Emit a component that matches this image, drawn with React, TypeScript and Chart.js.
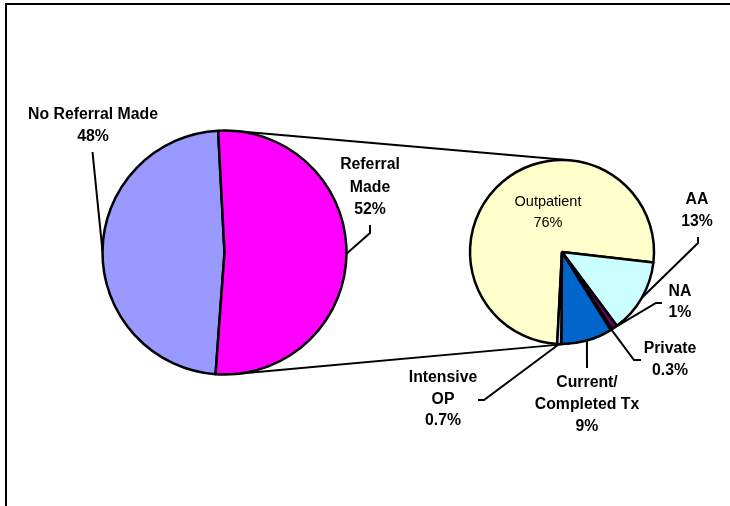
import React, { useEffect, useRef } from "react";
import { Chart, registerables } from "chart.js";

Chart.register(...registerables);

// ---------- data ----------
const mainCategories = ["No Referral Made", "Referral Made"];
const mainValues = [48, 52];
const mainPercentText = ["48%", "52%"];
const mainLabelLines = [["No Referral Made"], ["Referral", "Made"]];
const mainColors = ["#9999FF", "#FF00FF"];

const subCategories = ["Outpatient", "AA", "NA", "Private", "Current/Completed Tx", "Intensive OP"];
const subValues = [76, 13, 1, 0.3, 9, 0.7];
const subPercentText = ["76%", "13%", "1%", "0.3%", "9%", "0.7%"];
const subLabelLines = [["Outpatient"], ["AA"], ["NA"], ["Private"], ["Current/", "Completed Tx"], ["Intensive", "OP"]];
const subColors = ["#FFFFCC", "#CCFFFF", "#660066", "#FF8080", "#0066CC", "#CCCCFF"];

// ---------- styles ----------
const BOLD = 'bold 15.8px "Liberation Sans", Arial, sans-serif';
const REG = '14.5px "Liberation Sans", Arial, sans-serif';
const LINE_H = 22;

type LabelStyle = { text: [number, number]; leader: [number, number][]; font: string; lineH: number };

// offsets relative to the pie centre
const mainLabelStyle: LabelStyle[] = [
  { text: [-131.5, -137.5], leader: [[-132, -100.5]], font: BOLD, lineH: LINE_H },
  { text: [145.5, -87.5], leader: [[145.5, -27.5], [145.5, -19.5]], font: BOLD, lineH: 22.5 },
];
const subLabelStyle: LabelStyle[] = [
  { text: [-14, -50], leader: [], font: REG, lineH: 21 },
  { text: [135, -52], leader: [[136, -15], [136, -9]], font: BOLD, lineH: LINE_H },
  { text: [118, 40], leader: [[100, 51], [94, 51]], font: BOLD, lineH: 21 },
  { text: [108, 97], leader: [[79, 108], [72, 108]], font: BOLD, lineH: 22 },
  { text: [25, 131], leader: [[25, 116]], font: BOLD, lineH: LINE_H },
  { text: [-119, 126], leader: [[-84, 148], [-78, 148]], font: BOLD, lineH: 21.5 },
];

function drawLabels(chart: any, lines: string[][], pcts: string[], styles: LabelStyle[]) {
  const ctx: CanvasRenderingContext2D = chart.ctx;
  const meta = chart.getDatasetMeta(0);
  ctx.save();
  meta.data.forEach((arc: any, i: number) => {
    const s = styles[i];
    const cx = arc.x;
    const cy = arc.y;
    const r = arc.outerRadius;
    if (s.leader.length) {
      const mid = (arc.startAngle + arc.endAngle) / 2;
      ctx.beginPath();
      ctx.strokeStyle = "#000";
      ctx.lineWidth = 2;
      ctx.moveTo(cx + s.leader[0][0], cy + s.leader[0][1]);
      for (let k = 1; k < s.leader.length; k++) ctx.lineTo(cx + s.leader[k][0], cy + s.leader[k][1]);
      ctx.lineTo(cx + r * Math.cos(mid), cy + r * Math.sin(mid));
      ctx.stroke();
    }
    ctx.font = s.font;
    ctx.fillStyle = "#000";
    ctx.textAlign = "center";
    ctx.textBaseline = "middle";
    const all = [...lines[i], pcts[i]];
    all.forEach((t, k) => ctx.fillText(t, cx + s.text[0], cy + s.text[1] + k * s.lineH));
  });
  ctx.restore();
}

export default function App() {
  const bigRef = useRef<HTMLCanvasElement>(null);
  const smallRef = useRef<HTMLCanvasElement>(null);

  useEffect(() => {
    const big = new Chart(bigRef.current!, {
      type: "pie",
      data: {
        labels: mainCategories,
        datasets: [
          {
            data: mainValues,
            backgroundColor: mainColors,
            borderColor: "#000",
            borderWidth: 2.5,
            radius: 122,
          } as any,
        ],
      },
      options: {
        responsive: false,
        animation: false,
        devicePixelRatio: 1,
        events: [],
        rotation: 184.2,
        layout: { padding: { left: 0, right: 281, top: 0, bottom: 1 } },
        plugins: { legend: { display: false }, tooltip: { enabled: false }, title: { display: false } },
      },
      plugins: [
        {
          id: "frameAndLabels",
          afterDraw(chart: any) {
            const ctx = chart.ctx;
            ctx.save();
            ctx.strokeStyle = "#000";
            ctx.lineWidth = 2;
            ctx.beginPath();
            ctx.moveTo(6, 506);
            ctx.lineTo(6, 4);
            ctx.lineTo(730, 4);
            ctx.stroke();
            ctx.restore();
            drawLabels(chart, mainLabelLines, mainPercentText, mainLabelStyle);
          },
        },
      ],
    } as any);

    const small = new Chart(smallRef.current!, {
      type: "pie",
      data: {
        labels: subCategories,
        datasets: [
          {
            data: subValues,
            backgroundColor: subColors,
            borderColor: "#000",
            borderWidth: 2.5,
            radius: 92,
          } as any,
        ],
      },
      options: {
        responsive: false,
        animation: false,
        devicePixelRatio: 1,
        events: [],
        rotation: 183,
        layout: { padding: { left: 394, right: 0, top: 0, bottom: 2 } },
        plugins: { legend: { display: false }, tooltip: { enabled: false }, title: { display: false } },
      },
      plugins: [
        {
          id: "connectorsAndLabels",
          afterDraw(chart: any) {
            const ctx: CanvasRenderingContext2D = chart.ctx;
            const a1: any = big.getDatasetMeta(0).data[0];
            const a2: any = chart.getDatasetMeta(0).data[0];
            if (a1 && a2) {
              const x1 = a1.x, y1 = a1.y, r1 = a1.outerRadius;
              const x2 = a2.x, y2 = a2.y, r2 = a2.outerRadius;
              const d = Math.hypot(x2 - x1, y2 - y1);
              const phi = Math.atan2(y2 - y1, x2 - x1);
              const alpha = Math.acos((r1 - r2) / d);
              ctx.save();
              ctx.strokeStyle = "#000";
              ctx.lineWidth = 2;
              [phi - alpha, phi + alpha].forEach((t) => {
                const nx = Math.cos(t), ny = Math.sin(t);
                ctx.beginPath();
                ctx.moveTo(x1 + r1 * nx, y1 + r1 * ny);
                ctx.lineTo(x2 + r2 * nx, y2 + r2 * ny);
                ctx.stroke();
              });
              ctx.restore();
            }
            drawLabels(chart, subLabelLines, subPercentText, subLabelStyle);
          },
        },
      ],
    } as any);

    return () => {
      small.destroy();
      big.destroy();
    };
  }, []);

  const canvasStyle: React.CSSProperties = { position: "absolute", left: 0, top: 0 };
  return (
    <div style={{ position: "fixed", left: 0, top: 0, width: 730, height: 506, background: "#fff" }}>
      <canvas ref={bigRef} width={730} height={506} style={canvasStyle} />
      <canvas ref={smallRef} width={730} height={506} style={canvasStyle} />
    </div>
  );
}
